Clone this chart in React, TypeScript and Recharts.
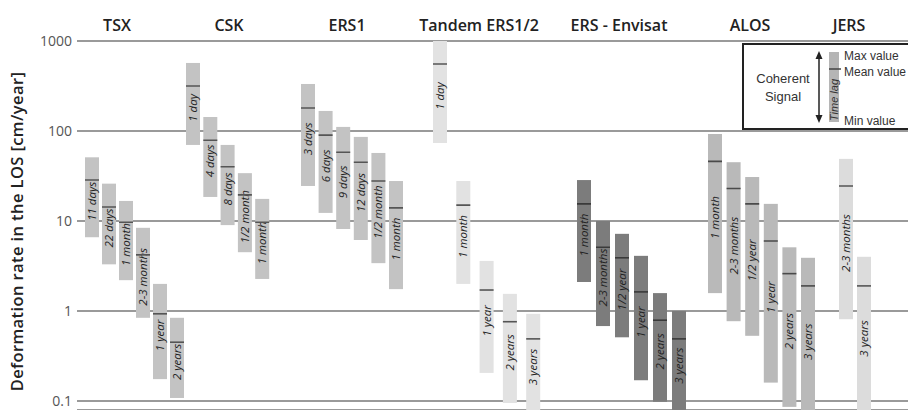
import {
  Bar,
  CartesianGrid,
  ComposedChart,
  Customized,
  ReferenceDot,
  Scatter,
  XAxis,
  YAxis,
} from "recharts";

const groups = ["TSX", "CSK", "ERS1", "Tandem ERS1/2", "ERS - Envisat", "ALOS", "JERS"];

const timeLags = [
  ["11 days", "22 days", "1 month", "2-3 months", "1 year", "2 years"],
  ["1 day", "4 days", "8 days", "1/2 month", "1 month"],
  ["3 days", "6 days", "9 days", "12 days", "1/2 month", "1 month"],
  ["1 day", "1 month", "1 year", "2 years", "3 years"],
  ["1 month", "2-3 months", "1/2 year", "1 year", "2 years", "3 years"],
  ["1 month", "2-3 months", "1/2 year", "1 year", "2 years", "3 years"],
  ["2-3 months", "3 years"],
];

// deformation rate, cm/year
const maxRate = [
  [51, 26, 16.7, 8.4, 2.0, 0.84],
  [570, 143, 70, 34, 17.6],
  [333, 167, 111, 86, 57, 27.8],
  [1000, 27.8, 3.6, 1.55, 0.93],
  [28.5, 10, 7.2, 4.1, 1.58, 1.0],
  [92.6, 45, 30.8, 15.5, 5.1, 3.9],
  [49, 4.0],
];

const meanRate = [
  [28.5, 14.3, 9.7, 4.2, 0.93, 0.45],
  [316, 79, 40, 19.5, 9.7],
  [180, 90, 58, 45, 27.8, 14],
  [555, 15, 1.71, 0.76, 0.49],
  [15.5, 5.1, 3.9, 1.63, 0.79, 0.49],
  [46, 23, 15.5, 6.0, 2.6, 1.9],
  [24.5, 1.9],
];

const minRate = [
  [6.6, 3.3, 2.2, 0.84, 0.175, 0.108],
  [70, 18.5, 9.0, 4.5, 2.27],
  [24.5, 12.3, 8.15, 6.15, 3.4, 1.75],
  [73.6, 2.0, 0.205, 0.095, 0.075],
  [2.1, 0.68, 0.51, 0.17, 0.098, 0.075],
  [1.58, 0.77, 0.53, 0.16, 0.086, 0.065],
  [0.81, 0.075],
];

const rateTicks = [0.1, 1, 10, 100, 1000];

// layout along the x axis (px from the plot's left edge)
const groupStart = [15, 116, 231, 363, 507, 638, 769];
const groupPitch = [17, 17.3, 17.6, 23.3, 19, 18.6, 18];
const titleX = [40, 152, 270, 402, 542, 673, 772];
const plotWidth = 831;

const groupFill = ["#c3c3c3", "#c3c3c3", "#c3c3c3", "#e2e2e2", "#7c7c7c", "#b9b9b9", "#dcdcdc"];
const meanStroke = ["#555", "#555", "#555", "#555", "#3a3a3a", "#4a4a4a", "#555"];

const rows = groups.flatMap((_, gi) =>
  timeLags[gi].map((lag, i) => ({
    pos: groupStart[gi] + i * groupPitch[gi],
    group: gi,
    lag,
    range: [minRate[gi][i], maxRate[gi][i]],
    mean: meanRate[gi][i],
  }))
);

const BarShape = (props: any) => {
  const { x, y, width, height } = props;
  const p = props.payload ?? props;
  const cx = x + width / 2;
  const cy = y + height / 2 + 4;
  return (
    <g>
      <rect x={cx - 7} y={y} width={14} height={height} fill={groupFill[p.group]} />
      <text
        transform={`translate(${cx},${cy}) rotate(-90)`}
        textAnchor="middle"
        dy={4}
        fontSize={11.5}
        fontStyle="italic"
        fill="#222"
      >
        {p.lag}
      </text>
    </g>
  );
};

const MeanTick = (props: any) => {
  const { cx, cy } = props;
  const p = props.payload ?? props;
  return (
    <line x1={cx - 7} x2={cx + 7} y1={cy} y2={cy} stroke={meanStroke[p.group]} strokeWidth={1.6} />
  );
};

const GroupTitle = (props: any) => {
  const vb = props.viewBox;
  return (
    <text x={vb.x + vb.width / 2} y={31} textAnchor="middle" fontSize={16} fontWeight={600} fill="#222">
      {props.name}
    </text>
  );
};

const AxisTitle = (props: any) => {
  const vb = props.viewBox;
  const cy = vb.y + vb.height / 2 + 6;
  return (
    <text
      transform={`translate(23,${cy}) rotate(-90)`}
      textAnchor="middle"
      fontSize={16.5}
      fontWeight={600}
      letterSpacing={0.4}
      fill="#222"
    >
      Deformation rate in the LOS [cm/year]
    </text>
  );
};

const CoherenceKey = () => (
  <g fontFamily="'Liberation Sans', Arial, sans-serif" fill="#333">
    <rect x={743} y={44} width={175} height={85} fill="#fff" stroke="#222" strokeWidth={2} />
    <text x={783} y={83} fontSize={13} textAnchor="middle">Coherent</text>
    <text x={783} y={101} fontSize={13} textAnchor="middle">Signal</text>
    <line x1={819} x2={819} y1={56} y2={118} stroke="#222" strokeWidth={1.5} />
    <polygon points="819,51 815.5,59 822.5,59" fill="#222" />
    <polygon points="819,123 815.5,115 822.5,115" fill="#222" />
    <rect x={829} y={52} width={10} height={70} fill="#b5b5b5" />
    <line x1={829} x2={841} y1={69} y2={69} stroke="#444" strokeWidth={1.5} />
    <text
      transform="translate(834,100) rotate(-90)"
      textAnchor="middle"
      dy={4}
      fontSize={11}
      fontStyle="italic"
    >
      Time lag
    </text>
    <text x={844} y={60} fontSize={12}>Max value</text>
    <text x={844} y={76} fontSize={12}>Mean value</text>
    <text x={844} y={125} fontSize={12}>Min value</text>
  </g>
);

export default function App() {
  return (
    <div style={{ position: "absolute", left: 0, top: 0, background: "#fff" }}>
      <ComposedChart
        width={908}
        height={410}
        data={rows}
        margin={{ top: 41, right: 0, bottom: 0, left: 0 }}
        style={{ fontFamily: "'Open Sans', sans-serif" }}
      >
        <CartesianGrid vertical={false} stroke="#9a9a9a" strokeWidth={2} />
        <XAxis dataKey="pos" type="number" domain={[0, plotWidth]} hide />
        <YAxis
          scale="log"
          domain={[0.0794, 1000]}
          allowDataOverflow
          ticks={rateTicks}
          width={77}
          axisLine={false}
          tickLine={false}
          tickSize={3}
          tickMargin={2}
          tick={{ fontSize: 14, fill: "#555" }}
          tickFormatter={(v) => String(v)}
          label={<AxisTitle />}
        />
        <Bar dataKey="range" barSize={14} shape={<BarShape />} isAnimationActive={false} />
        <Scatter dataKey="mean" shape={<MeanTick />} isAnimationActive={false} />
        {groups.map((g, gi) => (
          <ReferenceDot
            key={g}
            x={titleX[gi]}
            y={1000}
            r={1}
            fill="none"
            stroke="none"
            ifOverflow="visible"
            label={<GroupTitle name={g} />}
          />
        ))}
        <Customized component={CoherenceKey} />
      </ComposedChart>
    </div>
  );
}
